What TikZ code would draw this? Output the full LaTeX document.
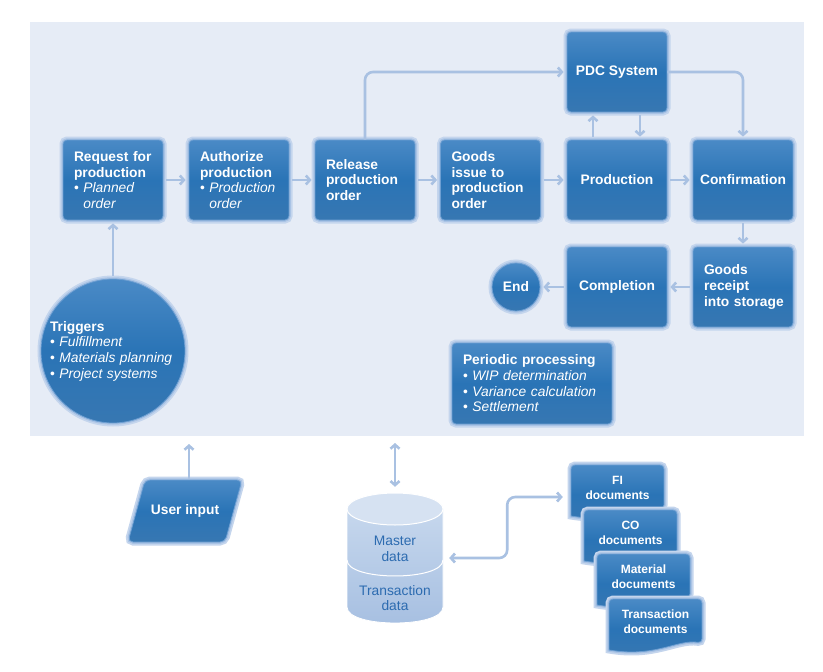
\documentclass[tikz,border=0pt]{standalone}
\usepackage{fontspec}
\setmainfont{Liberation Sans}
\usetikzlibrary{arrows.meta,calc}
\definecolor{bg}{HTML}{E6ECF6}
\definecolor{bxtop}{HTML}{4A8AC6}
\definecolor{bxmid}{HTML}{2A74B6}
\definecolor{bxbot}{HTML}{3777B2}
\definecolor{bxedge}{HTML}{6E9FD2}
\definecolor{glow}{HTML}{A9C3E5}
\definecolor{arr}{HTML}{A9C1E2}
\definecolor{cyltop}{HTML}{D6E2F2}
\definecolor{cylbodyA}{HTML}{C6D7ED}
\definecolor{cylbodyB}{HTML}{A6BFE1}
\definecolor{cyltext}{HTML}{2C6BB0}
\newcommand\itm[1]{{\mdseries\textbullet\ \textit{#1}}}
\newcommand\cnt[1]{{\mdseries\phantom{\textbullet\ }\textit{#1}}}
\newcommand\docshape[1]{%
  \path[docfill, shift={(#1)}] (-46.5,28) [rounded corners=4pt] -- (-46.5,-23) -- (46.5,-23) -- (46.5,21)
    [sharp corners] .. controls (22,17) and (0,36) .. (-46.5,28) -- cycle;}
\begin{document}
\begin{tikzpicture}[x=1pt,y=-1pt,
  shaded/.style={top color=bxtop, bottom color=bxbot, middle color=bxmid,
    draw=bxedge, line width=0.8pt,
    preaction={draw=glow!55!bg, line width=7pt},
    preaction={draw=glow, line width=3.5pt}},
  box/.style={shaded, rounded corners=4pt, text=white,
    font=\fontsize{13.8}{15.7}\selectfont\bfseries,
    minimum width=100pt, minimum height=80pt, inner xsep=11pt, inner ysep=0pt,
    text width=78pt, align=left},
  cbox/.style={shaded, rounded corners=4pt, text=white,
    font=\fontsize{13.8}{15.7}\selectfont\bfseries,
    minimum width=100pt, minimum height=80pt, inner sep=0pt, align=center},
  roundnode/.style={shaded, circle, text=white, inner sep=0pt,
    font=\fontsize{13.8}{15.7}\selectfont\bfseries, align=left},
  docfill/.style={shaded},
  doctext/.style={text=white, font=\fontsize{12}{15}\selectfont\bfseries, align=center,
    minimum width=93pt, minimum height=46pt, inner sep=0pt},
  flow/.style={draw=arr, line width=2.6pt, -{Straight Barb[length=4pt,width=9pt]},
    shorten >=3pt, shorten <=3pt},
  biflow/.style={draw=arr, line width=2.6pt,
    {Straight Barb[length=4pt,width=9pt]}-{Straight Barb[length=4pt,width=9pt]}},
  cyltxt/.style={text=cyltext, font=\fontsize{13.8}{15.7}\selectfont, align=center}
]
\useasboundingbox (0,0) rectangle (823,672);
\fill[white] (0,0) rectangle (823,672);
\fill[bg] (30,22) rectangle (804,436);

% main row
\node[box] (req)  at (113,180) {Request for\\production\\\itm{Planned}\\\cnt{order}};
\node[box] (auth) at (239,180) {Authorize\\production\\\itm{Production}\\\cnt{order}};
\node[box] (rel)  at (365,180) {Release\\production\\order};
\node[box] (gi)   at (490.5,180) {Goods\\issue to\\production\\order};
\node[cbox] (prod) at (617,180) {Production};
\node[cbox] (conf) at (743,180) {Confirmation};
\node[cbox] (pdc)  at (617,72) {PDC System};
\node[box] (grec) at (743,287) {Goods\\receipt\\\mbox{into storage}};
\node[cbox] (comp) at (617,287) {Completion};
\node[roundnode, align=center, minimum size=48pt] (endc) at (516,287) {End};
\node[roundnode, minimum size=144pt, text width=126pt] (trig) at (113,351)
  {Triggers\\\itm{Fulfillment}\\\itm{Materials planning}\\\itm{Project systems}};
\node[box, minimum width=160pt, minimum height=81pt, text width=138pt] (per) at (532,383.5)
  {Periodic processing\\\itm{WIP determination}\\\itm{Variance calculation}\\\itm{Settlement}};

% connectors in the process
\draw[flow] (trig.north) -- (req.south);
\draw[flow] (req.east) -- (auth.west);
\draw[flow] (auth.east) -- (rel.west);
\draw[flow] (rel.east) -- (gi.west);
\draw[flow] (gi.east) -- (prod.west);
\draw[flow] (prod.east) -- (conf.west);
\draw[flow, rounded corners=8pt, shorten <=0pt] (rel.north) |- (pdc.west);
\draw[flow, rounded corners=8pt, shorten <=0pt] (pdc.east) -| (conf.north);
\draw[flow] ([xshift=-24pt]prod.north) -- ([xshift=-24pt]pdc.south);
\draw[flow] ([xshift=23pt]pdc.south) -- ([xshift=23pt]prod.north);
\draw[flow] (conf.south) -- (grec.north);
\draw[flow] (grec.west) -- (comp.east);
\draw[flow] (comp.west) -- (endc.east);

% user input
\path[shaded, rounded corners=5pt] (128,542) -- (225,542) -- (242,480) -- (145,480) -- cycle;
\node[text=white, font=\fontsize{13.8}{15.7}\selectfont\bfseries, minimum width=100pt,
  minimum height=62pt, inner sep=0pt] (ui) at (185,511) {User input};
\coordinate (uitop) at (189,444);
\draw[flow, shorten >=0pt, shorten <=1pt] ([xshift=4pt]ui.north) -- (uitop);

% database cylinder
\path[top color=cylbodyA, bottom color=cylbodyB, draw=white, line width=0.8pt]
  (347,509) -- (347,607) .. controls (347,628.3) and (443,628.3) .. (443,607) -- (443,509) -- cycle;
\draw[white, line width=1pt] (347,560) .. controls (347,581.3) and (443,581.3) .. (443,560);
\path[fill=cyltop, draw=white, line width=1pt] (395,509) ellipse [x radius=48, y radius=16];
\node[minimum width=96pt, minimum height=130pt, inner sep=0pt] (db) at (395,558) {};
\node[cyltxt] (mdat) at (395,549) {Master\\data};
\node[cyltxt] (tdat) at (395,598) {Transaction\\data};
\coordinate (dbtop) at (395,443);
\draw[biflow, shorten <=6pt] (db.north) -- (dbtop);

% documents
\docshape{617.5,488}
\node[doctext] (fi) at (617.5,488) {FI\\documents};
\docshape{630.5,533}
\node[doctext] (co) at (630.5,533) {CO\\documents};
\docshape{643.5,577}
\node[doctext] (mat) at (643.5,577) {Material\\documents};
\docshape{655.5,622}
\node[doctext] (trd) at (655.5,622) {Transaction\\documents};

\draw[biflow, rounded corners=8pt, shorten <=6pt, shorten >=8pt]
  (db.east) -- ++(64,0) |- ([yshift=-9pt]fi.west);
\end{tikzpicture}
\end{document}
